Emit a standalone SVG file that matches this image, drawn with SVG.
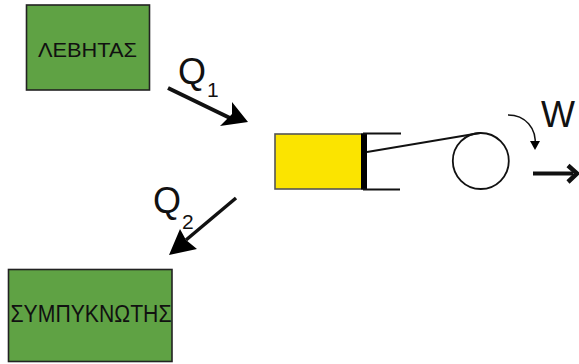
<svg xmlns="http://www.w3.org/2000/svg" width="579" height="364" viewBox="0 0 579 364">
<style>
text{font-family:"Liberation Sans",Arial,sans-serif;fill:#111}
.box{fill:#5fa244;stroke:#222;stroke-width:1.6}
.lbl{font-size:21px;text-anchor:middle}
.big{font-size:36px}
.sub{font-size:21px}
.ln{fill:none;stroke:#111;stroke-linecap:butt}
.ah{fill:#000;stroke:none}
</style>
<rect width="579" height="364" fill="#fff"/>
<g id="boiler"><rect class="box" x="26.500" y="5" width="123" height="85"/><text class="lbl" x="87.500" y="57" textLength="99" lengthAdjust="spacingAndGlyphs">ΛΕΒΗΤΑΣ</text></g>
<g id="condenser"><rect class="box" x="8.500" y="269.500" width="163.500" height="92"/><text class="lbl" style="font-size:23px" x="91" y="321.500" textLength="161" lengthAdjust="spacingAndGlyphs">ΣΥΜΠΥΚΝΩΤΗΣ</text></g>
<g id="cylinder">
<rect x="275" y="134" width="88" height="55" fill="#fbe400" stroke="#555" stroke-width="1.600"/>
<rect x="361" y="133.500" width="6" height="56" fill="#000"/>
<path class="ln" d="M363 133.500H401M363 189.500H400" stroke-width="1.800" stroke="#333"/>
</g>
<g id="wheel"><circle cx="480.800" cy="161" r="28" fill="#fff" stroke="#111" stroke-width="1.800"/></g>
<g id="connectors">
<path class="ln" d="M367 152L480 133" stroke-width="1.800"/>
<path class="ln" d="M168 88L232 119" stroke-width="4"/>
<polygon class="ah" points="248,122 220,126 232,114 232,102"/>
<path class="ln" d="M236 198L186 240" stroke-width="3.500"/>
<polygon class="ah" points="169,255 180,229 186,240 197,249"/>
<path class="ln" d="M508 115C525 115 537 128 535 146" stroke-width="1.500"/>
<polygon class="ah" points="535,150 530,141 540,141"/>
<path class="ln" d="M533 173.500H573" stroke-width="4"/>
<path class="ln" d="M568 165.500L577 173.500L568 182" stroke-width="4.500"/>
</g>
<g id="labels">
<text class="big" x="178" y="84">Q</text><text class="sub" x="207" y="97">1</text>
<text class="big" x="153" y="213">Q</text><text class="sub" x="182" y="229">2</text>
<text class="big" x="541" y="127">W</text>
</g>
</svg>
